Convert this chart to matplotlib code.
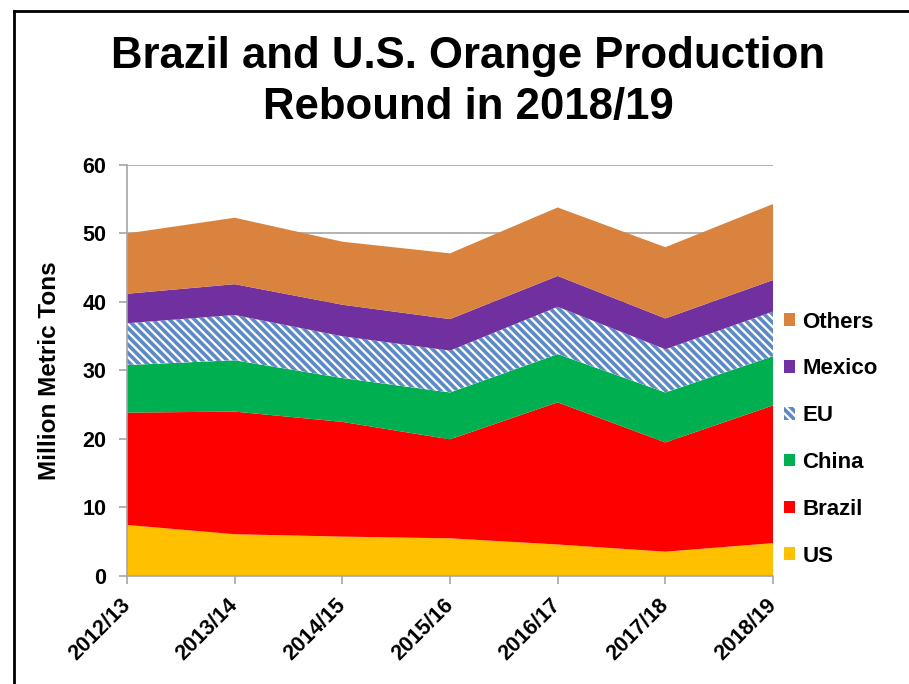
import matplotlib
matplotlib.use("Agg")
import matplotlib.pyplot as plt
from matplotlib.lines import Line2D
from matplotlib.patches import Patch

plt.rcParams["font.family"] = ["Liberation Sans", "DejaVu Sans"]
plt.rcParams["font.weight"] = "bold"
plt.rcParams["hatch.linewidth"] = 2.6

# Campañas y producción (millones de toneladas)
campanas = ["2012/13", "2013/14", "2014/15", "2015/16", "2016/17", "2017/18", "2018/19"]
us = [7.45, 6.1, 5.75, 5.5, 4.6, 3.55, 4.8]
brasil = [16.4, 17.9, 16.75, 14.45, 20.75, 15.95, 20.1]
china = [6.95, 7.5, 6.4, 6.85, 7.05, 7.3, 7.2]
ue = [6.1, 6.6, 6.1, 6.1, 6.9, 6.3, 6.5]
mexico = [4.3, 4.5, 4.6, 4.6, 4.5, 4.5, 4.6]
otros = [8.8, 9.7, 9.2, 9.6, 10.0, 10.4, 11.1]

series = [
    ("US", us, "#FFC000", None),
    ("Brazil", brasil, "#FF0000", None),
    ("China", china, "#00B050", None),
    ("EU", ue, "white", "#5B8AC6"),
    ("Mexico", mexico, "#7030A0", None),
    ("Others", otros, "#D9833F", None),
]

fig = plt.figure(figsize=(9.09, 6.84), dpi=100)
ax = fig.add_axes([0.1397, 0.1579, 0.7107, 0.6009])

x = list(range(len(campanas)))
base = [0.0] * len(x)
handles = []
for nombre, vals, color, rayas in series:
    top = [b + v for b, v in zip(base, vals)]
    if rayas:
        ax.fill_between(x, base, top, facecolor="white", edgecolor=rayas,
                        hatch="\\\\\\\\", linewidth=0, zorder=2)
        handles.append(Patch(facecolor="white", edgecolor=rayas, hatch="\\\\\\\\",
                             linewidth=0, label=nombre))
    else:
        ax.fill_between(x, base, top, facecolor=color, linewidth=0, zorder=2)
        handles.append(Patch(facecolor=color, linewidth=0, label=nombre))
    base = top

ax.set_xlim(0, len(x) - 1)
ax.set_ylim(0, 60)
ax.set_yticks(range(0, 61, 10))
ax.set_xticks(x)
ax.set_xticklabels(campanas, rotation=45, ha="right", va="center",
                   rotation_mode="anchor")
ax.grid(axis="y", color="#A6A6A6", linewidth=1.2, zorder=0)
ax.set_axisbelow(True)
for s in ["top", "right"]:
    ax.spines[s].set_visible(False)
for s in ["left", "bottom"]:
    ax.spines[s].set_color("#A6A6A6")
    ax.spines[s].set_linewidth(1.2)
ax.tick_params(axis="both", colors="#A6A6A6", length=6, width=1.2,
               labelcolor="black", labelsize=15.5)
ax.tick_params(axis="y", pad=9)
ax.tick_params(axis="x", pad=13)
ax.set_ylabel("Million Metric Tons", fontsize=17.5, fontweight="bold")
ax.yaxis.set_label_coords(-0.102, 0.5)

fig.legend(handles=handles[::-1], loc="center left",
           bbox_to_anchor=(0.862, 0.358), frameon=False, fontsize=16,
           handlelength=0.5, handleheight=0.5, handletextpad=0.35,
           labelspacing=1.16, borderpad=0, borderaxespad=0)

fig.text(0.515, 0.947, "Brazil and U.S. Orange Production\nRebound in 2018/19",
         ha="center", va="top", fontsize=31.5, fontweight="bold", linespacing=1.3)

# marco de la diapositiva (solo izquierda y arriba visibles)
fig.add_artist(Line2D([14 / 909, 14 / 909], [0, 1 - 11 / 684], color="black",
                      linewidth=2, transform=fig.transFigure))
fig.add_artist(Line2D([14 / 909, 1], [1 - 11 / 684, 1 - 11 / 684], color="black",
                      linewidth=2, transform=fig.transFigure))

fig.savefig("out.png", dpi=100)
